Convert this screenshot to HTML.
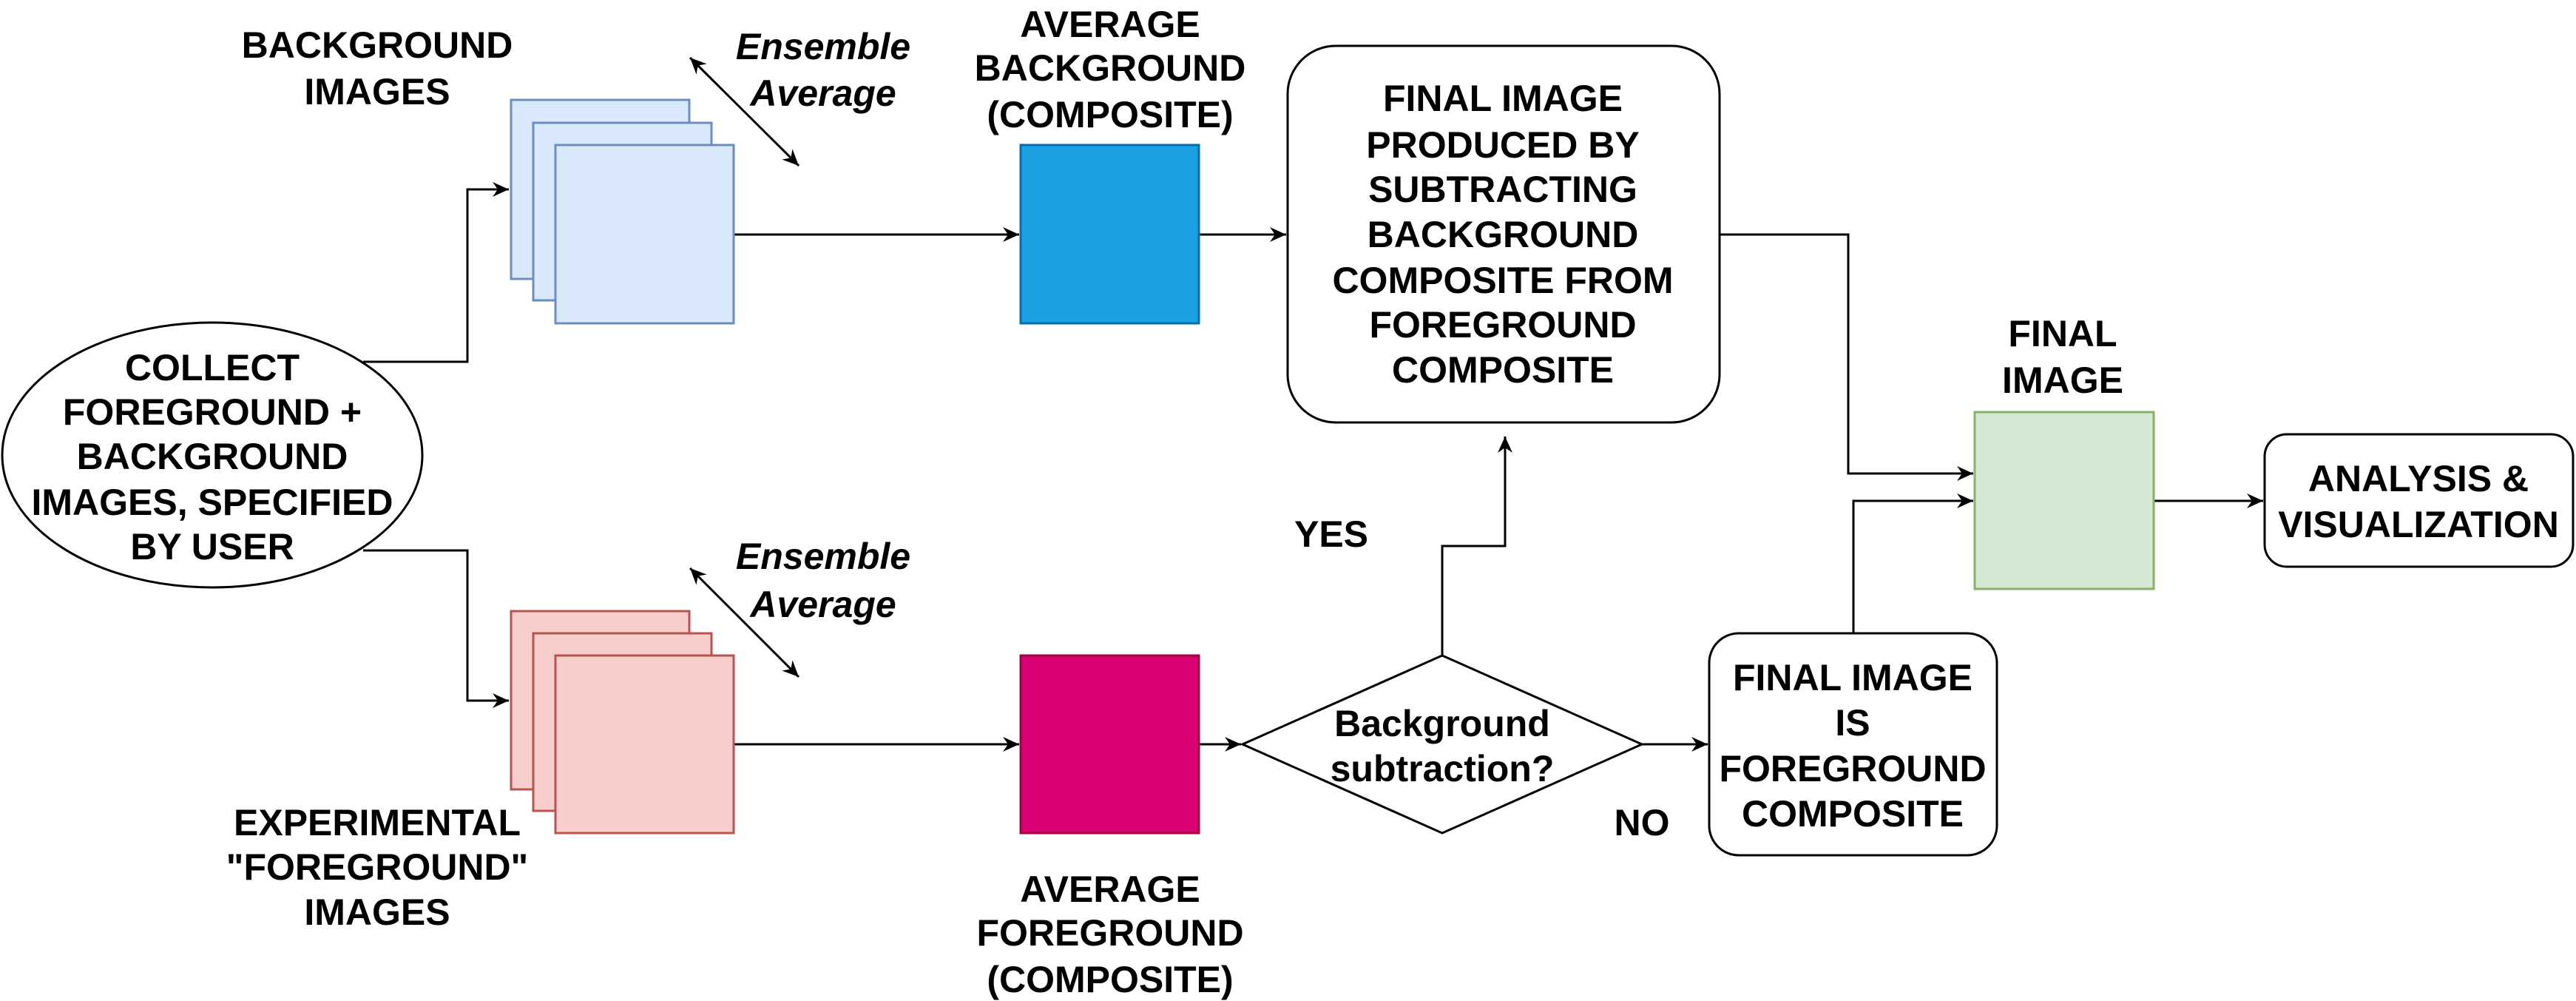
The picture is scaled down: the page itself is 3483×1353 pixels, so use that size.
<!DOCTYPE html>
<html><head><meta charset="utf-8"><style>
html,body{margin:0;padding:0;background:#fff;}
svg{display:block;}
text{font-family:"Liberation Sans",Arial,sans-serif;font-weight:bold;font-size:50px;fill:#000;text-anchor:middle;}
.i{font-style:italic;}
</style></head><body>
<svg width="3483" height="1353" viewBox="0 0 3483 1353" xmlns="http://www.w3.org/2000/svg">
<defs>
<marker id="a" markerWidth="12" markerHeight="12" refX="11" refY="6" orient="auto" markerUnits="userSpaceOnUse">
<path d="M0,0 L12,6 L0,12 L4,6 Z" fill="#000"/></marker>
<marker id="a2" markerWidth="24" markerHeight="24" refX="22" refY="12" orient="auto-start-reverse" markerUnits="userSpaceOnUse">
<path d="M0,2 L22,12 L0,22 L7,12 Z" fill="#000"/></marker>
</defs>
<g fill="none" stroke="#000" stroke-width="3">
<!-- ellipse -->
<ellipse cx="287" cy="615" rx="284" ry="179"/>
<!-- ellipse to stacks -->
<polyline points="491,489 632,489 632,256 688,256" marker-end="url(#a2)"/>
<polyline points="491,744 632,744 632,947 688,947" marker-end="url(#a2)"/>
<!-- ensemble arrows -->
<line x1="933" y1="78" x2="1080" y2="224" marker-start="url(#a2)" marker-end="url(#a2)"/>
<line x1="933" y1="768" x2="1080" y2="915" marker-start="url(#a2)" marker-end="url(#a2)"/>
<!-- stacks to squares -->
<line x1="992" y1="317" x2="1378" y2="317" marker-end="url(#a2)"/>
<line x1="992" y1="1006" x2="1378" y2="1006" marker-end="url(#a2)"/>
<!-- blue square to box -->
<line x1="1621" y1="317" x2="1739" y2="317" marker-end="url(#a2)"/>
<!-- pink square to diamond -->
<line x1="1621" y1="1006" x2="1678" y2="1006" marker-end="url(#a2)"/>
<!-- YES -->
<polyline points="1950,886 1950,738 2035,738 2035,590" marker-end="url(#a2)"/>
<!-- NO -->
<line x1="2220" y1="1006" x2="2309" y2="1006" marker-end="url(#a2)"/>
<!-- box to green -->
<polyline points="2325,317 2499,317 2499,640 2668,640" marker-end="url(#a2)"/>
<polyline points="2506,856 2506,677 2668,677" marker-end="url(#a2)"/>
<line x1="2912" y1="677" x2="3060" y2="677" marker-end="url(#a2)"/>
<!-- rounded boxes -->
<rect x="1741" y="62" width="584" height="509" rx="65" ry="65"/>
<rect x="2311" y="856" width="389" height="300" rx="40" ry="40"/>
<rect x="3062" y="587" width="417" height="179" rx="30" ry="30"/>
<!-- diamond -->
<polygon points="1950,886 2220,1006 1950,1126 1680,1006" fill="#fff"/>
</g>
<!-- stacks -->
<g stroke="#6c8ebf" stroke-width="3" fill="#dae8fc">
<rect x="691" y="135" width="241" height="242"/>
<rect x="721" y="166" width="241" height="240"/>
<rect x="751" y="196" width="241" height="241"/>
</g>
<g stroke="#b85450" stroke-width="3" fill="#f8cecc">
<rect x="691" y="826" width="241" height="241"/>
<rect x="721" y="856" width="241" height="240"/>
<rect x="751" y="886" width="241" height="240"/>
</g>
<rect x="1380" y="196" width="241" height="241" fill="#1ba1e2" stroke="#006eaf" stroke-width="3"/>
<rect x="1380" y="886" width="241" height="240" fill="#d80073" stroke="#a50040" stroke-width="3"/>
<rect x="2670" y="557" width="242" height="239" fill="#d5e8d4" stroke="#82b366" stroke-width="3"/>
<!-- texts -->
<text x="287" y="514">COLLECT</text>
<text x="287" y="574">FOREGROUND +</text>
<text x="287" y="634">BACKGROUND</text>
<text x="287" y="696">IMAGES, SPECIFIED</text>
<text x="287" y="756">BY USER</text>
<text x="510" y="78">BACKGROUND</text>
<text x="510" y="141">IMAGES</text>
<text class="i" x="1113" y="80">Ensemble</text>
<text class="i" x="1113" y="143">Average</text>
<text class="i" x="1113" y="769">Ensemble</text>
<text class="i" x="1113" y="834">Average</text>
<text x="1501" y="50">AVERAGE</text>
<text x="1501" y="109">BACKGROUND</text>
<text x="1501" y="172">(COMPOSITE)</text>
<text x="510" y="1129">EXPERIMENTAL</text>
<text x="510" y="1189">"FOREGROUND"</text>
<text x="510" y="1250">IMAGES</text>
<text x="1501" y="1219">AVERAGE</text>
<text x="1501" y="1278">FOREGROUND</text>
<text x="1501" y="1341">(COMPOSITE)</text>
<text x="2032" y="150">FINAL IMAGE</text>
<text x="2032" y="213">PRODUCED BY</text>
<text x="2032" y="273">SUBTRACTING</text>
<text x="2032" y="334">BACKGROUND</text>
<text x="2032" y="396">COMPOSITE FROM</text>
<text x="2032" y="456">FOREGROUND</text>
<text x="2032" y="517">COMPOSITE</text>
<text x="2789" y="468">FINAL</text>
<text x="2789" y="531">IMAGE</text>
<text x="3270" y="664">ANALYSIS &amp;</text>
<text x="3270" y="726">VISUALIZATION</text>
<text x="1950" y="995">Background</text>
<text x="1950" y="1056">subtraction?</text>
<text x="1800" y="739">YES</text>
<text x="2220" y="1129">NO</text>
<text x="2505" y="933">FINAL IMAGE</text>
<text x="2505" y="994">IS</text>
<text x="2505" y="1056">FOREGROUND</text>
<text x="2505" y="1117">COMPOSITE</text>
</svg>
</body></html>
